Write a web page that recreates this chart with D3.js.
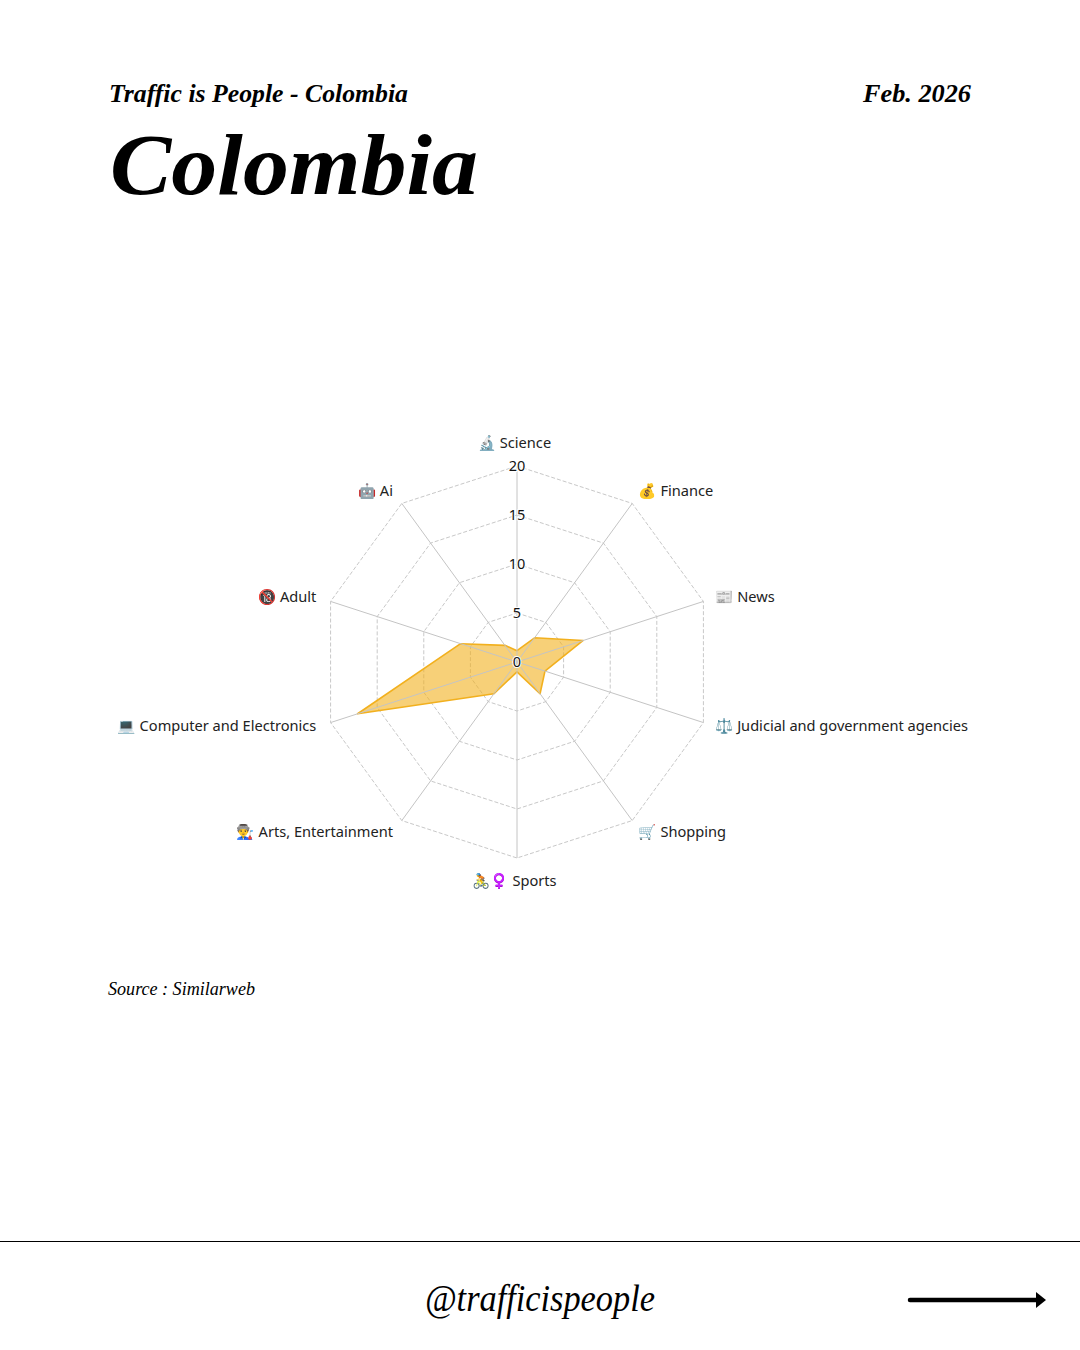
<!DOCTYPE html>
<html><head><meta charset="utf-8">
<script src="https://cdnjs.cloudflare.com/ajax/libs/d3/7.8.5/d3.min.js"></script>
<style>html,body{margin:0;padding:0;background:#fff}svg{display:block}</style>
</head><body><svg id="c" width="1080" height="1350"></svg>
<script>
const icons=["🔬","💰","📰","⚖️","🛒","🚴♀️","👨‍🏭","💻","🔞","🤖"];
const categories=["Science","Finance","News","Judicial and government agencies","Shopping","Sports","Arts, Entertainment","Computer and Electronics","Adult","Ai"];
const values=[1.15,3.05,7.1,3.0,4.0,1.0,4.0,17.1,6.05,2.1];
const ticks=[0,5,10,15,20];
const svg=d3.select("#c");
const serif="'Liberation Serif',serif", sans="'Noto Sans',sans-serif";
const cx=517,cy=662;
const r=d3.scaleLinear().domain([0,20]).range([0,196]);
const ang=d3.scaleLinear().domain([0,categories.length]).range([0,2*Math.PI]);
const pt=(i,v)=>[cx+r(v)*Math.sin(ang(i)),cy-r(v)*Math.cos(ang(i))];
const radial=d3.lineRadial().angle((d,i)=>ang(i)).curve(d3.curveLinearClosed);
const g=svg.append("g").attr("transform",`translate(${cx},${cy})`);
ticks.slice(1).forEach(t=>g.append("path").attr("d",radial.radius(()=>r(t))(categories))
  .attr("fill","none").attr("stroke","#c8c8c8").attr("stroke-dasharray","4 2").attr("stroke-width",1));
categories.forEach((c,i)=>{const p=pt(i,20);
  svg.append("line").attr("x1",cx).attr("y1",cy).attr("x2",p[0]).attr("y2",p[1]).attr("stroke","#c4c4c4").attr("stroke-width",1);});
g.append("path").attr("d",radial.radius(d=>r(d))(values))
  .attr("fill","#f2b01e").attr("fill-opacity",.6).attr("stroke","#f2b01e").attr("stroke-width",1.6).attr("stroke-linejoin","round");
ticks.forEach(t=>svg.append("text").attr("x",cx).attr("y",cy-r(t)+5).attr("text-anchor","middle")
  .attr("font-family",sans).attr("font-size",14.5).attr("fill","#111")
  .attr("stroke","#fff").attr("stroke-width",2).attr("paint-order","stroke").text(t));
const labelR=r.invert(196+15);
categories.forEach((c,i)=>{const p=pt(i,labelR);const s=Math.sin(ang(i)),co=Math.cos(ang(i));
  const pole=Math.abs(s)<1e-6;
  const dy=pole?5-8*co:4.5+(Math.abs(co)<.5?(co>0?1:-1):0);
  svg.append("text").attr("x",p[0]+(s>0||pole?-2.5:0)).attr("y",p[1]+dy)
  .attr("text-anchor",pole?"middle":s>0?"start":"end")
  .attr("font-family",`${sans},'Noto Color Emoji'`).attr("font-size",14.6).attr("fill","#222")
  .text(icons[i]+" "+c);});
const T=(x,y,s,size,w,st,a,len)=>{const e=svg.append("text").attr("x",x).attr("y",y).attr("font-family",serif)
  .attr("font-size",size).attr("font-weight",w).attr("font-style",st).attr("text-anchor",a||"start").attr("fill","#000").text(s);
  if(len)e.attr("textLength",len).attr("lengthAdjust","spacingAndGlyphs");return e;};
T(109,102,"Traffic is People - Colombia",26,700,"italic","start",299);
T(971,102,"Feb. 2026",26,700,"italic","end",108);
T(110,194,"Colombia",86,700,"italic","start",368);
T(108,995,"Source : Similarweb",18,400,"italic","start",147);
T(540,1311,"@trafficispeople",37,400,"italic","middle",230);
svg.append("line").attr("x1",0).attr("x2",1080).attr("y1",1241.5).attr("y2",1241.5).attr("stroke","#000").attr("stroke-width",1);
svg.append("line").attr("x1",910).attr("x2",1038).attr("y1",1300).attr("y2",1300).attr("stroke","#000").attr("stroke-width",4.5).attr("stroke-linecap","round");
svg.append("path").attr("d","M1036,1292L1046,1300L1036,1308Z").attr("fill","#000");
</script></body></html>
